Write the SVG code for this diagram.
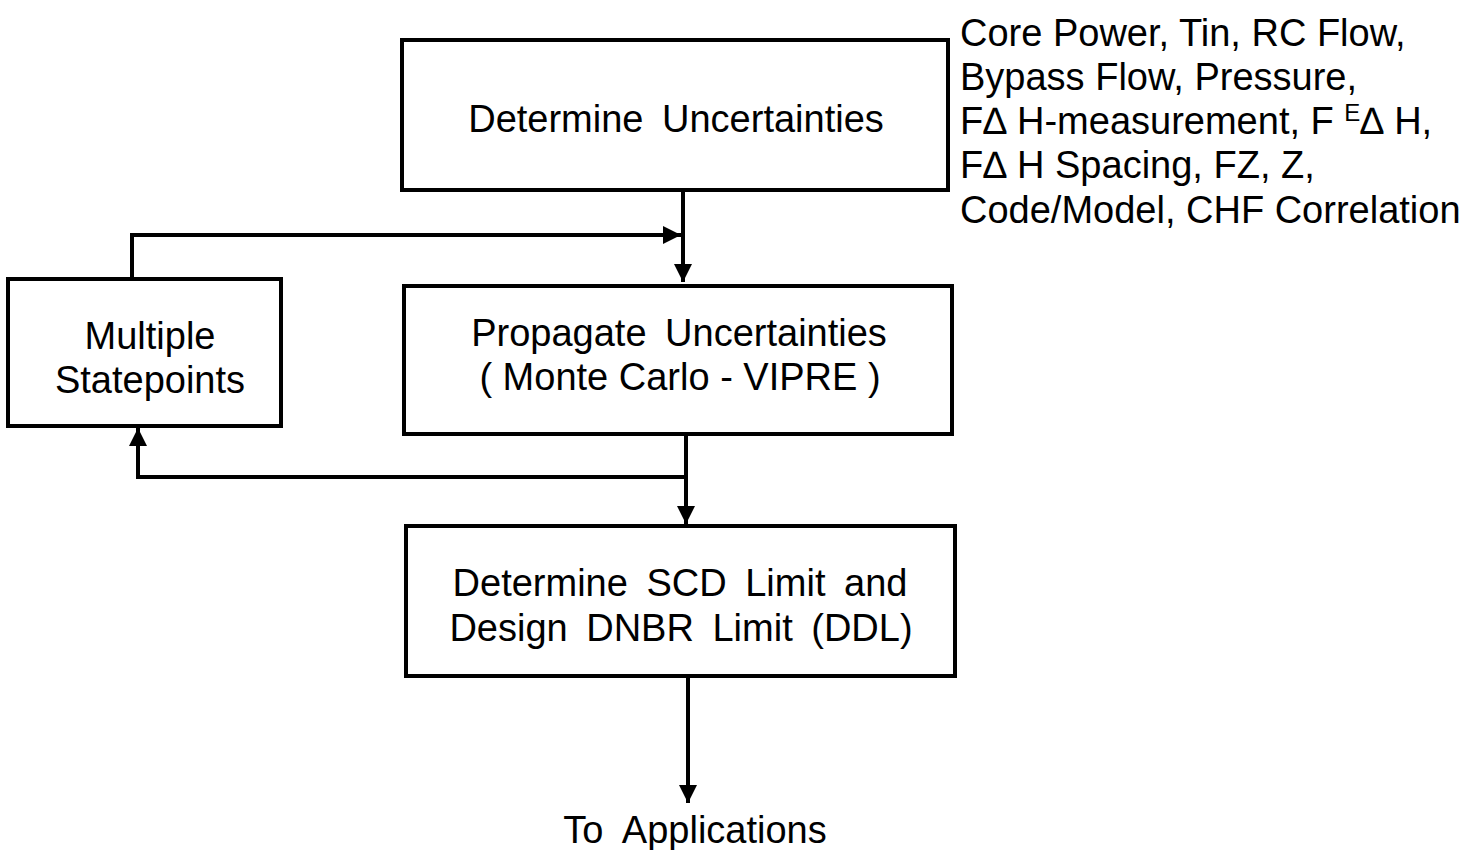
<svg xmlns="http://www.w3.org/2000/svg" width="1479" height="850" viewBox="0 0 1479 850">
<defs>
<style>
.box{fill:#fff;stroke:#000;stroke-width:4}
.t{font-family:"Liberation Sans",Arial,sans-serif;font-size:38px;fill:#000}
.c{text-anchor:middle}
.ln{fill:none;stroke:#000;stroke-width:4}
</style>
<marker id="ah" viewBox="0 0 10 10" refX="10" refY="5" markerWidth="4.5" markerHeight="4.5" markerUnits="strokeWidth" orient="auto">
<path d="M0,0 L10,5 L0,10 Z" fill="#000"/>
</marker>
</defs>
<rect width="1479" height="850" fill="#fff"/>
<g id="connectors">
<path class="ln" d="M683,190 V282" marker-end="url(#ah)"/>
<path class="ln" d="M132,279 V235 H681" marker-end="url(#ah)"/>
<path class="ln" d="M686,434 V524" marker-end="url(#ah)"/>
<path class="ln" d="M686,477 H138 V428" marker-end="url(#ah)"/>
<path class="ln" d="M688,676 V803" marker-end="url(#ah)"/>
</g>
<g id="n1">
<rect class="box" x="402" y="40" width="546" height="150"/>
<text class="t c" x="676" y="132" word-spacing="8">Determine Uncertainties</text>
</g>
<g id="n2">
<rect class="box" x="404" y="286" width="548" height="148"/>
<text class="t c" x="679" y="346" word-spacing="8">Propagate Uncertainties</text>
<text class="t c" x="680" y="390" word-spacing="0">( Monte Carlo - VIPRE )</text>
</g>
<g id="n3">
<rect class="box" x="8" y="279" width="273" height="147"/>
<text class="t c" x="150" y="349">Multiple</text>
<text class="t c" x="150" y="393">Statepoints</text>
</g>
<g id="n4">
<rect class="box" x="406" y="526" width="549" height="150"/>
<text class="t c" x="680" y="596" word-spacing="8">Determine SCD Limit and</text>
<text class="t c" x="681" y="641" word-spacing="8">Design DNBR Limit (DDL)</text>
</g>
<g id="n5">
<text class="t c" x="695" y="843" word-spacing="10">To Applications</text>
</g>
<g id="params">
<text class="t" x="960" y="46">Core Power, Tin, RC Flow,</text>
<text class="t" x="960" y="90">Bypass Flow, Pressure,</text>
<text class="t" x="960" y="134">F∆ H-measurement, F <tspan font-size="24" dy="-13">E</tspan><tspan dy="13">∆ H,</tspan></text>
<text class="t" x="960" y="178">F∆ H Spacing, FZ, Z,</text>
<text class="t" x="960" y="223">Code/Model, CHF Correlation</text>
</g>
</svg>
